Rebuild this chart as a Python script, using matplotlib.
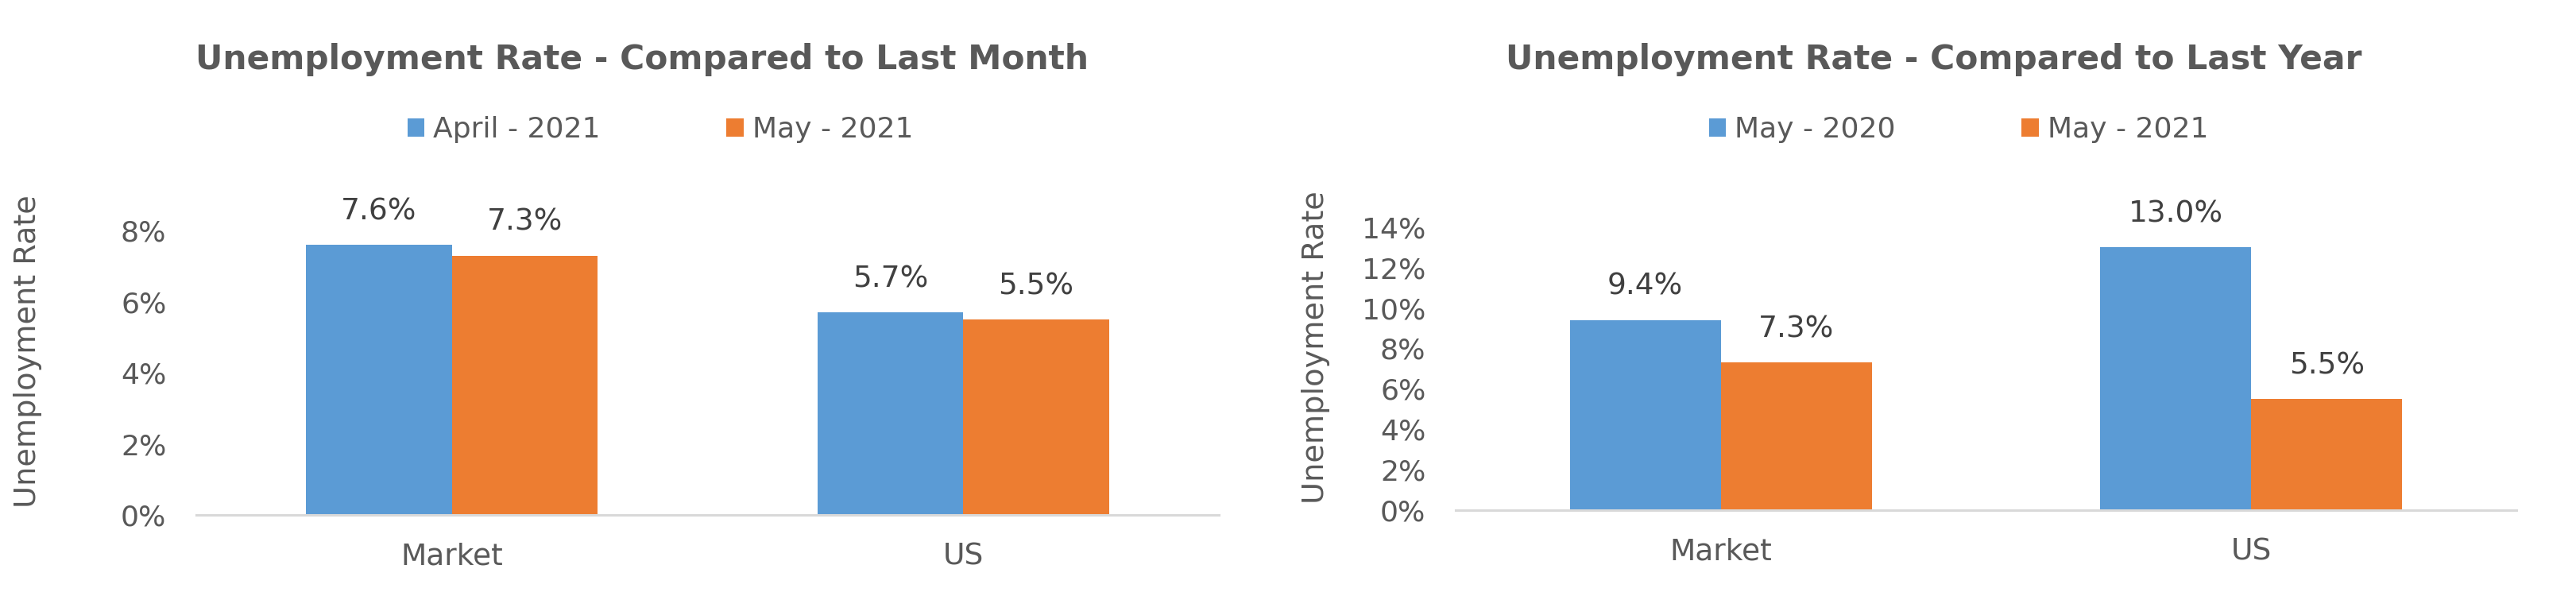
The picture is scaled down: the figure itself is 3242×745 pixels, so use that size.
import numpy as np
import matplotlib
matplotlib.use("Agg")
import matplotlib.pyplot as plt

# data
categories = ["Market", "US"]

month_title = "Unemployment Rate - Compared to Last Month"
month_series = ["April - 2021", "May - 2021"]
month_prev = [7.6, 5.7]
month_curr = [7.3, 5.5]

year_title = "Unemployment Rate - Compared to Last Year"
year_series = ["May - 2020", "May - 2021"]
year_prev = [9.4, 13.0]
year_curr = [7.3, 5.5]

BLUE = "#5B9BD5"
ORANGE = "#ED7D31"
GREY = "#595959"
DARK = "#404040"

plt.rcParams["font.family"] = ["DejaVu Sans"]

W, H = 3242, 745
fig = plt.figure(figsize=(W / 100, H / 100), dpi=100)


def px_axes(x0, x1, ytop, ybase):
    return fig.add_axes([x0 / W, (H - ybase) / H, (x1 - x0) / W, (ybase - ytop) / H])


def draw(ax, title, series, prev, curr, ymax, title_x, leg_x, ylab_x):
    x = np.arange(len(categories))
    w = 0.285
    b1 = ax.bar(x - w / 2, prev, w, color=BLUE, label=series[0])
    b2 = ax.bar(x + w / 2, curr, w, color=ORANGE, label=series[1])
    for bars, vals in ((b1, prev), (b2, curr)):
        for rect, v in zip(bars, vals):
            ax.annotate(f"{v:.1f}%", (rect.get_x() + rect.get_width() / 2, v),
                        xytext=(0, 23), textcoords="offset points",
                        ha="center", va="baseline", fontsize=27, color=DARK)
    ax.set_xlim(-0.5, len(categories) - 0.5)
    ax.set_ylim(0, ymax)
    ax.set_yticks(np.arange(0, ymax + 1, 2))
    ax.set_yticklabels([f"{int(t)}%" for t in np.arange(0, ymax + 1, 2)])
    ax.set_xticks(x)
    ax.set_xticklabels(categories)
    ax.tick_params(axis="y", length=0, pad=27, labelsize=26, labelcolor=GREY)
    ax.tick_params(axis="x", length=0, pad=25, labelsize=27, labelcolor=GREY)
    for s in ("top", "right", "left"):
        ax.spines[s].set_visible(False)
    ax.spines["bottom"].set_color("#D9D9D9")
    ax.spines["bottom"].set_linewidth(2.2)
    ax.text(ylab_x, 0.575, "Unemployment Rate", transform=ax.transAxes,
            rotation=90, ha="center", va="center", fontsize=27.5, color=GREY)
    fig.text(title_x / W, (H - 87) / H, title, ha="center", va="baseline",
             fontsize=30.5, fontweight="bold", color=GREY)
    fig.legend(handles=[b1, b2], labels=series, loc="center", ncol=2,
               bbox_to_anchor=(leg_x / W, (H - 163) / H), frameon=False,
               fontsize=26, labelcolor=GREY, handlelength=0.6, handleheight=0.6,
               handletextpad=0.3, columnspacing=4.4)


ax1 = px_axes(247, 1534, 290.4, 648)
draw(ax1, month_title, month_series, month_prev, month_curr, 8, 808, 831, -0.165)

ax2 = px_axes(1832, 3167, 285.7, 642)
draw(ax2, year_title, year_series, year_prev, year_curr, 14, 2434, 2465, -0.132)

fig.savefig("out.png", dpi=100, facecolor="white")
